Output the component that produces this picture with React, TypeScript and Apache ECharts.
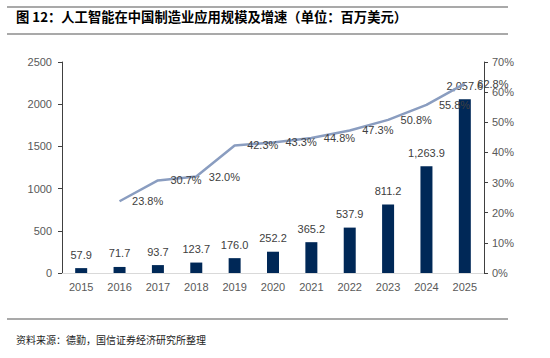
import React, { useEffect, useRef } from "react";
import * as echarts from "echarts";

const categories = ["2015", "2016", "2017", "2018", "2019", "2020", "2021", "2022", "2023", "2024", "2025"];
const scaleValues = [57.9, 71.7, 93.7, 123.7, 176.0, 252.2, 365.2, 537.9, 811.2, 1263.9, 2057.6];
const growthValues: (number | null)[] = [null, 23.8, 30.7, 32.0, 42.3, 43.3, 44.8, 47.3, 50.8, 55.8, 62.8];
const titleText = "图 12：人工智能在中国制造业应用规模及增速（单位：百万美元）";
const sourceText = "资料来源：德勤，国信证券经济研究所整理";

function fmt(v: number): string {
  const s = v.toFixed(1);
  const [i, d] = s.split(".");
  return i.replace(/\B(?=(\d{3})+(?!\d))/g, ",") + "." + d;
}

export default function App() {
  const ref = useRef<HTMLDivElement>(null);
  useEffect(() => {
    if (!ref.current) return;
    const chart = echarts.init(ref.current, null, { renderer: "svg" });
    const axisFont = { fontFamily: "Liberation Sans, Arial, sans-serif", fontSize: 11, color: "#595959" };
    chart.setOption({
      animation: false,
      backgroundColor: "#fff",
      grid: { left: 62, right: 66, top: 62, bottom: 85 },
      graphic: [
        { type: "line", shape: { x1: 7, y1: 7, x2: 508, y2: 7 }, style: { stroke: "#8c8c8c", lineWidth: 1.5 } },
        { type: "line", shape: { x1: 7, y1: 34, x2: 508, y2: 34 }, style: { stroke: "#8c8c8c", lineWidth: 1.5 } },
        { type: "line", shape: { x1: 7, y1: 319, x2: 508, y2: 319 }, style: { stroke: "#8c8c8c", lineWidth: 1.5 } },
        {
          type: "text", left: 16, top: 10,
          style: { text: titleText, font: "bold 13.3px 'Noto Sans CJK SC', sans-serif", fill: "#000" },
        },
        {
          type: "text", left: 16, top: 334,
          style: { text: sourceText, font: "10px 'Noto Sans CJK SC', sans-serif", fill: "#222" },
        },
      ],
      xAxis: {
        type: "category",
        data: categories,
        axisLine: { lineStyle: { color: "#d9d9d9", width: 1 } },
        axisTick: { show: false },
        axisLabel: { ...axisFont, margin: 8 },
      },
      yAxis: [
        {
          type: "value", min: 0, max: 2500, interval: 500,
          axisLine: { show: true, lineStyle: { color: "#404040" } },
          axisTick: { show: true, length: 4, lineStyle: { color: "#404040" } },
          splitLine: { show: false },
          axisLabel: { ...axisFont, margin: 10, formatter: (v: number) => String(v) },
        },
        {
          type: "value", min: 0, max: 70, interval: 10, position: "right",
          axisLine: { show: true, lineStyle: { color: "#404040" } },
          axisTick: { show: true, length: 4, lineStyle: { color: "#404040" } },
          splitLine: { show: false },
          axisLabel: { ...axisFont, margin: 8, formatter: "{value}%" },
        },
      ],
      series: [
        {
          type: "bar",
          data: scaleValues,
          barWidth: 12,
          itemStyle: { color: "#002857" },
          label: {
            show: true, position: "top", distance: 8,
            fontFamily: "Liberation Sans, Arial, sans-serif", fontSize: 11, color: "#404040",
            formatter: (p: any) => fmt(p.value),
          },
        },
        {
          type: "line",
          yAxisIndex: 1,
          data: growthValues,
          smooth: false,
          showSymbol: true,
          symbol: "circle",
          symbolSize: 1,
          itemStyle: { color: "rgba(0,0,0,0)" },
          lineStyle: { color: "#8a9dc0", width: 2.5 },
          labelLayout: { hideOverlap: false },
          label: {
            show: true, position: "right", distance: 12,
            fontFamily: "Liberation Sans, Arial, sans-serif", fontSize: 11, color: "#404040",
            formatter: (p: any) => p.value.toFixed(1) + "%",
          },
        },
      ],
    });
    return () => chart.dispose();
  }, []);
  return <div ref={ref} style={{ width: 550, height: 358, position: "absolute", left: 0, top: 0 }} />;
}
